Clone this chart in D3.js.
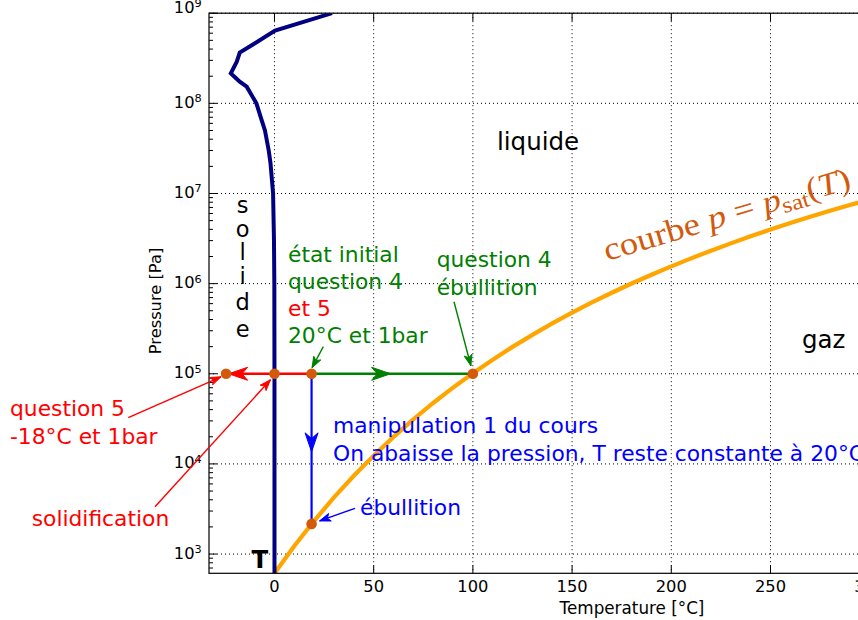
<!DOCTYPE html>
<html><head><meta charset="utf-8">
<script src="https://cdn.jsdelivr.net/npm/d3@7"></script>
<style>body{margin:0;background:#fff} svg{display:block;font-family:"DejaVu Sans",sans-serif}</style>
</head><body><svg id="c" width="858" height="620"></svg>
<script>
// ---------- data ----------
const satT = [0.01,10,20,30,40,50,60,70,80,90,100,110,120,130,140,150,160,170,180,190,200,210,220,230,240,250,260,270,280,290,300];
const satP = [611.657,1228,2339,4247,7384,12352,19946,31201,47414,70182,101418,143380,198670,270280,361540,476160,618230,792190,1002800,1255200,1554900,1907700,2319600,2797100,3346900,3976200,4692300,5503000,6416600,7441800,8587900];
const meltT = [0.01, 0.0, -0.07, -0.25, -0.7, -2.0, -2.9, -4.8, -6.9, -9.1, -14.0, -17.5, -19.9, -22.0, -19.0, -17.5, 0.3, 29.0];
const meltP = [611.657, 1e5, 1e6, 3e6, 1e7, 2.16e7, 3e7, 5e7, 7e7, 1e8, 1.53e8, 1.74e8, 1.95e8, 2.15e8, 2.9e8, 3.65e8, 6.4e8, 1e9];
const stateT = [-24.4, 0, 18.7, 100, 18.7];
const stateP = [1e5, 1e5, 1e5, 1e5, 2160];
const xTickValues = [0, 50, 100, 150, 200, 250, 300];
const yTickExponents = [3, 4, 5, 6, 7, 8, 9];

// ---------- setup ----------
const svg = d3.select("#c");
const L = 209, R = 869.7, T = 13.2, B = 573.3;
const x = d3.scaleLinear().domain([-33, 300]).range([L, R]);
const y = d3.scaleLog().domain([611.657, 1e9]).range([B, T]);

svg.append("defs").append("clipPath").attr("id","pc")
  .append("rect").attr("x",L).attr("y",T).attr("width",R-L).attr("height",B-T);

// grid
const grid = svg.append("g").attr("stroke","#000").attr("stroke-width",1).attr("stroke-dasharray","1,3");
xTickValues.forEach(v => grid.append("line").attr("x1",x(v)).attr("x2",x(v)).attr("y1",T).attr("y2",B));
yTickExponents.forEach(e => grid.append("line").attr("y1",y(10**e)).attr("y2",y(10**e)).attr("x1",L).attr("x2",R));

// ticks
const tk = svg.append("g").attr("stroke","#000").attr("stroke-width",1);
xTickValues.forEach(v => {
  tk.append("line").attr("x1",x(v)).attr("x2",x(v)).attr("y1",B).attr("y2",B-8);
  tk.append("line").attr("x1",x(v)).attr("x2",x(v)).attr("y1",T).attr("y2",T+8);
});
for (let e = 2; e <= 8; e++) for (let k = 1; k <= 9; k++) {
  const v = k * 10**e;
  if (v < 611.657 || v > 1e9) continue;
  const len = k === 1 ? 8 : 4;
  tk.append("line").attr("x1",L).attr("x2",L+len).attr("y1",y(v)).attr("y2",y(v));
  tk.append("line").attr("x1",R).attr("x2",R-len).attr("y1",y(v)).attr("y2",y(v));
}
tk.append("line").attr("x1",L).attr("x2",L+8).attr("y1",y(1e9)).attr("y2",y(1e9));

// tick labels
xTickValues.forEach(v => svg.append("text").attr("x",x(v)).attr("y",B+18.7)
  .attr("text-anchor","middle").attr("font-size",16.3).text(v));
yTickExponents.forEach(e => {
  const t = svg.append("text").attr("x",201.7).attr("y",y(10**e)+4.5 - (e === 9 ? 5 : 0))
    .attr("text-anchor","end").attr("font-size",16.3);
  t.append("tspan").text("10");
  t.append("tspan").attr("font-size",11.3).attr("dy",-5.5).text(e);
});

// axis labels
svg.append("text").attr("x",632).attr("y",613.5).attr("text-anchor","middle")
  .attr("font-size",16.8).text("Temperature [°C]");
svg.append("text").attr("transform","translate(161,301) rotate(-90)").attr("text-anchor","middle")
  .attr("font-size",16.3).text("Pressure [Pa]");

// curves
const plot = svg.append("g").attr("clip-path","url(#pc)");
const line = d3.line().x(d => x(d[0])).y(d => y(d[1]));
plot.append("path").datum(satT.map((t,i)=>[t,satP[i]])).attr("d",line)
  .attr("fill","none").attr("stroke","#ffa500").attr("stroke-width",4.2);
plot.append("path").datum(meltT.map((t,i)=>[t,meltP[i]])).attr("d",line)
  .attr("fill","none").attr("stroke","#000080").attr("stroke-width",4).attr("stroke-linejoin","miter");

// frame
svg.append("rect").attr("x",L).attr("y",T).attr("width",R-L).attr("height",B-T)
  .attr("fill","none").attr("stroke","#000").attr("stroke-width",1.2);

// arrowhead helper
function head(g, tx, ty, ang, len, wid, color, notch) {
  const c = Math.cos(ang), s = Math.sin(ang);
  const p = (a, b) => [tx + a*c - b*s, ty + a*s + b*c];
  const pts = [p(0,0), p(-len,-wid/2), p(-len*(1-notch),0), p(-len,wid/2)];
  g.append("path").attr("d","M"+pts.map(q=>q.join(",")).join("L")+"Z").attr("fill",color).attr("stroke",color).attr("stroke-width",1);
}

// process lines
const proc = [
  {from:2, to:0, color:"#ff0000", w:2.6, frac:0.97},
  {from:2, to:3, color:"#008000", w:2.6, frac:0.49},
  {from:2, to:4, color:"#0000ff", w:2.2, frac:0.52}
];
proc.forEach(pr => {
  const x1 = x(stateT[pr.from]), y1 = y(stateP[pr.from]);
  const x2 = x(stateT[pr.to]), y2 = y(stateP[pr.to]);
  svg.append("line").attr("x1",x1).attr("y1",y1).attr("x2",x2).attr("y2",y2)
    .attr("stroke",pr.color).attr("stroke-width",pr.w);
  const ang = Math.atan2(y2-y1, x2-x1);
  head(svg, x1+(x2-x1)*pr.frac, y1+(y2-y1)*pr.frac, ang, 19, 13, pr.color, 0.3);
});

// annotation arrows (text anchor -> point)
function ann(x1, y1, tx, ty, color) {
  svg.append("line").attr("x1",x1).attr("y1",y1).attr("x2",tx).attr("y2",ty)
    .attr("stroke",color).attr("stroke-width",1.4);
  head(svg, tx, ty, Math.atan2(ty-y1, tx-x1), 11, 8, color, 0.25);
}
ann(323.3, 346.7, x(stateT[2])+0.5, y(stateP[2])-6, "#008000");
ann(454, 301.7, x(stateT[3])-2, y(stateP[3])-8, "#008000");
ann(128.3, 417.7, x(stateT[0])-5, y(stateP[0])+3, "#ff0000");
ann(155, 506.7, x(stateT[1])-4, y(stateP[1])+6, "#ff0000");
ann(355, 508.3, x(stateT[4])+8, y(stateP[4])-3, "#0000ff");

// state points
svg.selectAll("circle.st").data(stateT).join("circle").attr("class","st")
  .attr("cx",(d)=>x(d)).attr("cy",(d,i)=>y(stateP[i])).attr("r",5.3).attr("fill","#d35a0c");

// texts
function txt(xp, yp, s, color, size, extra) {
  const t = svg.append("text").attr("x",xp).attr("y",yp).attr("fill",color).attr("font-size",size).text(s);
  if (extra) extra(t);
  return t;
}
const F = 21.8;
txt(288, 261.7, "état initial", "#008000", F);
txt(288, 288.7, "question 4", "#008000", F);
txt(288, 315.5, "et 5", "#ff0000", F);
txt(288, 343, "20°C et 1bar", "#008000", F);
txt(436.7, 266.7, "question 4", "#008000", F);
txt(436.7, 294.5, "ébullition", "#008000", F);
txt(333, 433.3, "manipulation 1 du cours", "#0000ff", F);
txt(333, 460.5, "On abaisse la pression, T reste constante à 20°C", "#0000ff", F);
txt(360, 515, "ébullition", "#0000ff", F);
txt(10, 416, "question 5", "#ff0000", F);
txt(10, 443.5, "-18°C et 1bar", "#ff0000", F);
txt(31.7, 525.5, "solidification", "#ff0000", F);
txt(497, 149.5, "liquide", "#000", 24.5);
txt(802, 347.5, "gaz", "#000", 24.5);
txt(251.5, 568, "T", "#000", 24.5, t => t.attr("font-weight","bold"));
const sol = ["s","o","l","i","d","e"], solY = [213.3, 237, 260, 283.8, 310, 336.7];
sol.forEach((c,i) => txt(242.7, solY[i], c, "#000", 22.5, t => t.attr("text-anchor","middle")));

// courbe p = p_sat(T)
const ct = svg.append("text").attr("transform","translate(607,261) rotate(-16.6)")
  .attr("fill","#d35a0c").attr("font-family","'Liberation Serif','DejaVu Serif',serif").attr("font-size",32)
  .attr("textLength",256).attr("lengthAdjust","spacingAndGlyphs");
ct.append("tspan").text("courbe ");
ct.append("tspan").attr("font-style","italic").text("p");
ct.append("tspan").text(" = ");
ct.append("tspan").attr("font-style","italic").text("p");
ct.append("tspan").attr("font-size",22).attr("dy",5).text("sat");
ct.append("tspan").attr("dy",-5).text("(");
ct.append("tspan").attr("font-style","italic").text("T");
ct.append("tspan").text(")");
</script></body></html>
